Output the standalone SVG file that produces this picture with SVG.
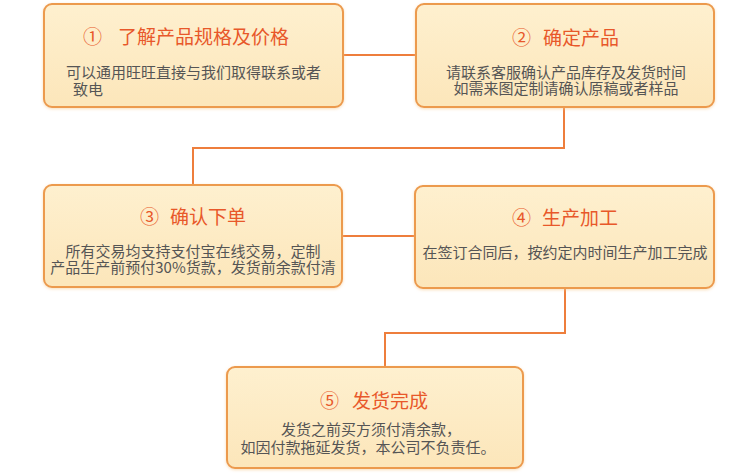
<svg xmlns="http://www.w3.org/2000/svg" width="749" height="473" viewBox="0 0 749 473">
<defs>
<linearGradient id="bg" x1="0" y1="0" x2="0" y2="1">
<stop offset="0" stop-color="#FEF0CF"/>
<stop offset="1" stop-color="#FCE6BA"/>
</linearGradient>
<filter id="sh" x="-5%" y="-10%" width="110%" height="120%">
<feDropShadow dx="0" dy="1" stdDeviation="1.5" flood-color="#F5C88A" flood-opacity="0.6"/>
</filter>
<style>
.box{fill:url(#bg);stroke:#EC9A4E;stroke-width:2;filter:url(#sh)}
.t{font-family:"Noto Sans CJK SC","Noto Sans",sans-serif;font-size:19px;fill:#E8582A}
.b{font-family:"Noto Sans CJK SC","Noto Sans",sans-serif;font-size:15px;fill:#555555;text-anchor:middle}
.c{fill:none;stroke:#EE7E3C;stroke-width:2}
</style>
</defs>
<rect width="749" height="473" fill="#FFFFFF"/>
<g id="connectors">
<path class="c" d="M343 55 H415"/>
<path class="c" d="M564 108 V148 H193 V185"/>
<path class="c" d="M343 236 H415"/>
<path class="c" d="M565 288 V333 H385 V367"/>
</g>
<g id="n1">
<rect class="box" x="44" y="4" width="299" height="103" rx="8"/>
<text class="t" x="83" y="44">①<tspan x="118">了解产品规格及价格</tspan></text>
<text class="b" x="193.5" y="78">可以通用旺旺直接与我们取得联系或者</text>
<text class="b" x="73" y="95" style="text-anchor:start">致电</text>
</g>
<g id="n2">
<rect class="box" x="416" y="4" width="298" height="103" rx="8"/>
<text class="t" x="512" y="45">②<tspan x="543">确定产品</tspan></text>
<text class="b" x="566" y="78">请联系客服确认产品库存及发货时间</text>
<text class="b" x="566" y="94">如需来图定制请确认原稿或者样品</text>
</g>
<g id="n3">
<rect class="box" x="44" y="185" width="298" height="102" rx="8"/>
<text class="t" x="140" y="224">③<tspan x="170">确认下单</tspan></text>
<text class="b" x="193" y="257">所有交易均支持支付宝在线交易，定制</text>
<text class="b" x="193" y="273">产品生产前预付30%货款，发货前余款付清</text>
</g>
<g id="n4">
<rect class="box" x="415" y="186" width="299" height="102" rx="8"/>
<text class="t" x="512" y="225">④<tspan x="542">生产加工</tspan></text>
<text class="b" x="565" y="258">在签订合同后，按约定内时间生产加工完成</text>
</g>
<g id="n5">
<rect class="box" x="227" y="367" width="296" height="101" rx="8"/>
<text class="t" x="320" y="408">⑤<tspan x="352">发货完成</tspan></text>
<text class="b" x="371" y="435">发货之前买方须付清余款，</text>
<text class="b" x="368" y="453">如因付款拖延发货，本公司不负责任。</text>
</g>
</svg>
